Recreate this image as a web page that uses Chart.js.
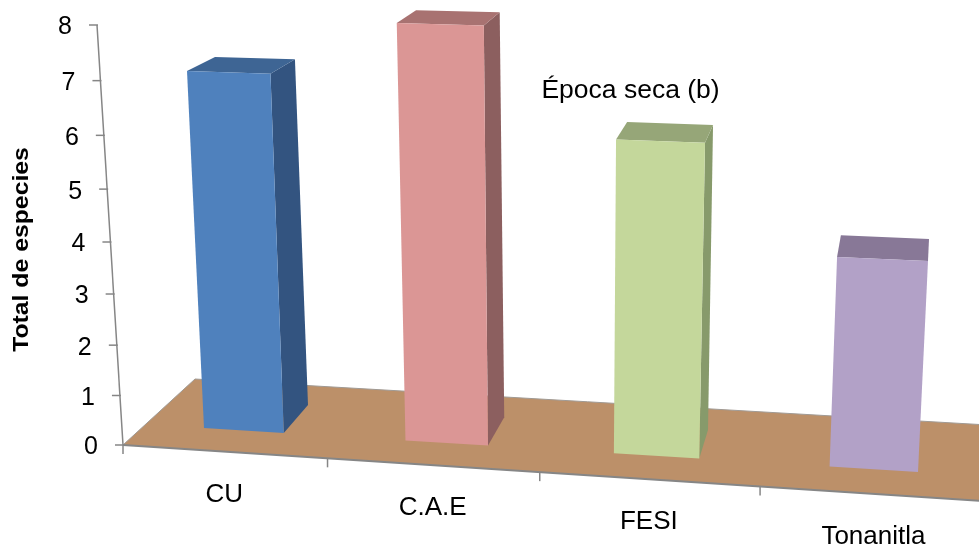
<!DOCTYPE html>
<html>
<head>
<meta charset="utf-8">
<title>Total de especies</title>
<script src="https://cdn.jsdelivr.net/npm/chart.js@4/dist/chart.umd.min.js"></script>
<style>
  html, body { margin: 0; padding: 0; background: #fff; overflow: hidden; }
  #wrap { width: 979px; height: 548px; }
</style>
</head>
<body>
<div id="wrap"><canvas id="chart"></canvas></div>
<script>
const sites = ['CU', 'C.A.E', 'FESI', 'Tonanitla']
const totalSpecies = [7, 8, 6, 4]
const yTicks = { min: 0, max: 8, step: 1 }

const frontColors = ['#4f81bd', '#db9695', '#c4d79b', '#b2a1c7']
const topColors = ['#3e6594', '#a87271', '#96a678', '#887897']
const sideColors = ['#335480', '#8c5f5f', '#879a6b', '#7a6b8a']

const floorColor = '#bc9069'
const axisColor = '#868686'
const textFont = '"Liberation Sans", Arial, sans-serif'

// Camera planes: each pair is [u, v] in chart units -> [x, y] on the canvas.
// u runs 0..4 across the categories, v is the value.
const wallPlane = [[[0, 0], [123, 445]], [[0, 8], [97, 25]], [[4, 0], [989, 501.4]], [[4, 8], [1025.6, 50.4]]]
const frontPlane = [[[0.3, 0], [204, 428]], [[0.3, 7], [187, 71]], [[3.7, 0], [918, 472]], [[3.7, 4], [928, 261]]]
const backPlane = [[[0.3, 7], [215, 57]], [[0.7, 0], [308, 405]], [[3.7, 4], [929, 239]], [[2.7, 0], [708, 430]]]
const floorBackEdge = [[195, 379], [988, 425]]

function solveHomography(pairs) {
  const m = []
  pairs.forEach(([[x, y], [X, Y]]) => {
    m.push([x, y, 1, 0, 0, 0, -x * X, -y * X, X])
    m.push([0, 0, 0, x, y, 1, -x * Y, -y * Y, Y])
  })
  for (let i = 0; i < 8; i++) {
    let p = i
    for (let r = i + 1; r < 8; r++) if (Math.abs(m[r][i]) > Math.abs(m[p][i])) p = r
    ;[m[i], m[p]] = [m[p], m[i]]
    for (let r = 0; r < 8; r++) {
      if (r === i) continue
      const f = m[r][i] / m[i][i]
      for (let c = i; c < 9; c++) m[r][c] -= f * m[i][c]
    }
  }
  const h = m.map((row, i) => row[8] / row[i])
  return (u, v) => {
    const w = h[6] * u + h[7] * v + 1
    return [(h[0] * u + h[1] * v + h[2]) / w, (h[3] * u + h[4] * v + h[5]) / w]
  }
}

const wall = solveHomography(wallPlane)
const front = solveHomography(frontPlane)
const back = solveHomography(backPlane)

function fillPoly(ctx, pts, color) {
  ctx.beginPath()
  pts.forEach((p, i) => i ? ctx.lineTo(p[0], p[1]) : ctx.moveTo(p[0], p[1]))
  ctx.closePath()
  ctx.fillStyle = color
  ctx.fill()
}

function strokeLine(ctx, a, b, color, width) {
  ctx.beginPath()
  ctx.moveTo(a[0], a[1])
  ctx.lineTo(b[0], b[1])
  ctx.strokeStyle = color
  ctx.lineWidth = width
  ctx.stroke()
}

const perspectivePlugin = {
  id: 'perspective',
  // the flat bars are replaced by the projected boxes
  beforeDatasetDraw(chart) {
    const { ctx, chartArea, scales: { x, y } } = chart
    const catWidth = chartArea.width / sites.length
    const toU = px => (px - chartArea.left) / catWidth

    ctx.save()

    // floor
    const frontLeft = wall(0, 0)
    const frontRight = wall(4, 0)
    fillPoly(ctx, [frontLeft, frontRight, floorBackEdge[1], floorBackEdge[0]], floorColor)
    strokeLine(ctx, floorBackEdge[0], floorBackEdge[1], '#a09a94', 1)
    strokeLine(ctx, frontLeft, floorBackEdge[0], '#a09a94', 1)

    // value axis, ticks and labels
    ctx.textAlign = 'center'
    ctx.textBaseline = 'middle'
    ctx.font = '25px ' + textFont
    strokeLine(ctx, wall(0, y.max), wall(0, y.min), axisColor, 1.5)
    y.ticks.forEach(t => {
      const p = wall(0, t.value)
      strokeLine(ctx, [p[0] - 8, p[1]], [p[0] + 1, p[1]], axisColor, 1.5)
      ctx.fillStyle = '#000'
      ctx.fillText(String(t.value), p[0] - 32, p[1] + 2.5)
    })

    // category axis
    ctx.font = '26px ' + textFont
    strokeLine(ctx, frontLeft, frontRight, axisColor, 2)
    for (let i = 0; i <= sites.length; i++) {
      const p = wall(i, 0)
      strokeLine(ctx, [p[0], p[1]], [p[0], p[1] + 9], axisColor, 1.5)
    }
    x.ticks.forEach((t, i) => {
      const p = wall(toU(x.getPixelForTick(i)), 0)
      ctx.fillStyle = '#000'
      ctx.fillText(sites[i], p[0], p[1] + 43)
    })

    // boxes, from the scale positions of each bar element
    chart.getDatasetMeta(0).data.forEach((bar, i) => {
      const u0 = toU(bar.x - bar.width / 2)
      const u1 = toU(bar.x + bar.width / 2)
      const v = y.getValueForPixel(bar.y)
      const v0 = y.getValueForPixel(bar.base)

      if (back(u1, v)[0] > front(u1, v)[0] + 2) {
        fillPoly(ctx, [front(u1, v), back(u1, v), back(u1, v0), front(u1, v0)], sideColors[i])
      }
      fillPoly(ctx, [front(u0, v), back(u0, v), back(u1, v), front(u1, v)], topColors[i])
      fillPoly(ctx, [front(u0, v), front(u1, v), front(u1, v0), front(u0, v0)], frontColors[i])
    })

    // caption and axis title, the title runs a little wide
    ctx.fillStyle = '#000'
    ctx.font = '26.5px ' + textFont
    ctx.fillText('Época seca (b)', 630.5, 91)
    ctx.translate(28, 249.5)
    ctx.rotate(-Math.PI / 2)
    ctx.scale(1.126, 1)
    ctx.textBaseline = 'alphabetic'
    ctx.font = 'bold 22px ' + textFont
    ctx.fillText('Total de especies', 0, 0)

    ctx.restore()
    return false
  }
}

new Chart(document.getElementById('chart').getContext('2d'), {
  type: 'bar',
  data: {
    labels: sites,
    datasets: [{
      label: 'Total de especies',
      data: totalSpecies,
      backgroundColor: frontColors,
      barPercentage: 0.4,
      categoryPercentage: 1
    }]
  },
  options: {
    responsive: true,
    maintainAspectRatio: false,
    animation: false,
    plugins: {
      legend: { display: false },
      tooltip: { enabled: false }
    },
    scales: {
      x: { display: false },
      y: { display: false, min: yTicks.min, max: yTicks.max, ticks: { stepSize: yTicks.step } }
    }
  },
  plugins: [perspectivePlugin]
})
</script>
</body>
</html>
